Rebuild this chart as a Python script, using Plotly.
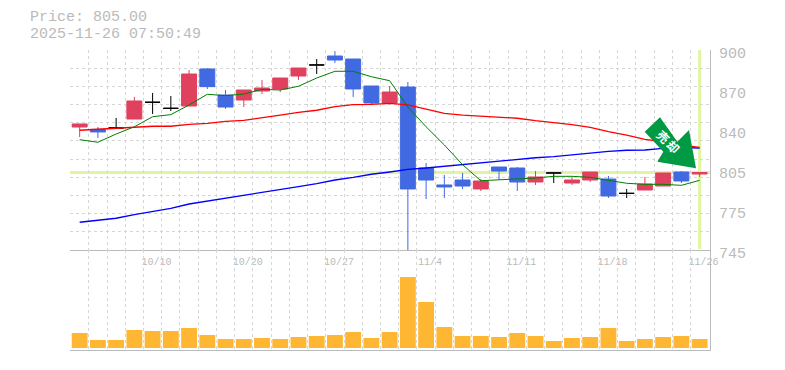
import plotly.graph_objects as go

open_ = [840.3,838.5,839.6,846.5,859.5,854.8,856.6,885.3,865.1,861.25,868.2,869.8,879.85,888.4,895.35,893,872.1,858.9,871.3,808.55,795.4,799.25,792.3,809.3,808.55,797.7,804.7,796.9,799.25,800,788.9,791.5,794.6,805.45,803.9]
high = [842.7,840.3,847.3,863.6,866.7,864.35,884.5,886.05,869,869,876.75,878.3,886.05,893,899.2,893,872.1,872.1,875.2,812.4,803.1,804.7,800,809.3,809.3,806.2,804.7,801.6,805.45,802.35,792.3,801.6,804.7,806.2,805.45]
low = [832.6,831.8,839.6,846.5,850.4,852.7,856.6,869.8,854.3,855.8,865.9,867.45,876.75,881.4,889.9,863.6,857.4,858.15,745,784.5,785.3,792.3,790.7,799.25,790.7,795.4,796.9,795.4,797.7,785.3,785.3,791.5,794.6,796.9,801.6]
close = [842.7,836.5,839.6,860.5,859.5,854.8,881.4,871.6,855.8,869,870.55,878.3,886.05,888.4,892.25,869.8,858.9,867.45,792.3,799.25,793.85,794.6,798.5,806.2,797.7,801.6,804.7,799.25,805.45,786.85,788.9,796.15,804.7,798.5,805.0]
ma_short = [830.5,828.5,834.9,840.5,848.3,849.9,857.4,865.7,864.6,865.9,869.5,869,871.9,878.3,883.5,883.5,879.3,876.2,855.8,840.5,826.4,811.1,798.7,799.25,800,800.8,802.1,802.1,801.3,799.25,796.7,795.9,795.9,795.1,799]
ma_mid = [837.8,838.5,839.3,840.1,840.9,840.9,842.4,843.2,844.7,845.5,847.8,849.6,851.7,853.3,856.1,857.6,857.9,858.7,857.4,854.3,850.9,849.6,848.85,847.8,847.1,845.2,843.7,842.1,840.1,836.7,834.1,830.8,828.9,826.2,824.6]
ma_long = [766.5,767.9,769.6,772.5,774.7,777.3,780.65,783,785.1,787.6,789.7,792.3,794.2,796.5,799.25,801.3,803.7,805.45,807.5,808.55,809.9,811.1,812.7,814,815.3,816.5,817.3,818.8,820.2,821.5,822.3,822.5,823.8,824.3,824.05]
volume = [15,8,8,18,17,17,20,13,9,9,10,9,11,12,13,16,10,16,71,46,21,12,12,11,15,12,7,10,11,20,7,9,11,12,9]

x_ticks = [4, 9, 14, 19, 24, 29, 34]
x_labels = ["10/10", "10/20", "10/27", "11/4", "11/11", "11/18", "11/26"]
y_ticks = [745, 776, 807, 838, 869, 900]
y_labels = ["745", "775", "805", "840", "870", "900"]
current_price = 805
price_text = "Price: 805.00"
time_text = "2025-11-26 07:50:49"
arrow_text = "売却"

W, H = 785, 370
L, R, T, B = 70, 710, 50, 350
px = lambda v: (v - L) / (R - L)
py = lambda v: (B - v) / (B - T)

RED, BLUE = "#E0415F", "#4169E1"
GRID, AXIS, TEXT = "#D6D6D6", "#BBBBBB", "#BABABA"
HILITE = "#E0F5A0"
idx = list(range(len(close)))
doji = [i for i in idx if open_[i] == close[i]]
body = [i for i in idx if open_[i] != close[i]]
pick = lambda a, ii: [a[i] for i in ii]

fig = go.Figure()
for vals, col, w in [(ma_long, "#0000FF", 1.3), (ma_mid, "#FF0000", 1.3), (ma_short, "#008000", 1)]:
    fig.add_trace(go.Scatter(x=idx, y=vals, mode="lines", line=dict(color=col, width=w), xaxis="x", yaxis="y"))
fig.add_trace(go.Candlestick(
    x=body, open=pick(open_, body), high=pick(high, body), low=pick(low, body), close=pick(close, body),
    increasing=dict(line=dict(color=RED, width=1), fillcolor=RED),
    decreasing=dict(line=dict(color=BLUE, width=1), fillcolor=BLUE),
    xaxis="x", yaxis="y"))
fig.add_trace(go.Candlestick(
    x=doji, open=pick(open_, doji), high=pick(high, doji), low=pick(low, doji), close=pick(close, doji),
    increasing=dict(line=dict(color="#000000", width=1), fillcolor="#000000"),
    decreasing=dict(line=dict(color="#000000", width=1), fillcolor="#000000"),
    xaxis="x", yaxis="y"))
fig.add_trace(go.Bar(x=idx, y=volume, marker=dict(color="#FFB733", line=dict(width=0)), width=0.87, xaxis="x2", yaxis="y2"))

x_grid = [k - 0.5 for k in range(35)]
y_grid = [745 + k * 155 / 11 for k in range(12)]
x_range = [-0.53, 34.57]
font_tick = dict(family="Liberation Mono", color=TEXT)

xcommon = dict(range=x_range, showgrid=False, zeroline=False, ticks="", automargin=False,
               minor=dict(tickvals=x_grid, showgrid=True, gridcolor=GRID, griddash="3px,3px", gridwidth=1, ticks=""),
               showline=True, linecolor=AXIS, linewidth=1, fixedrange=True)

fig.update_layout(
    width=W, height=H, autosize=False, showlegend=False,
    margin=dict(l=L, r=W - R, t=T, b=H - B, pad=0, autoexpand=False),
    paper_bgcolor="white", plot_bgcolor="white",
    boxmode="overlay", boxgap=0.18, boxgroupgap=0, bargap=0.13,
    xaxis=dict(domain=[0, 1], anchor="y", tickmode="array", tickvals=x_ticks, ticktext=x_labels,
               tickfont=dict(size=10, **font_tick), ticklabelstandoff=2, ticklabelshift=4,
               rangeslider=dict(visible=False), **xcommon),
    xaxis2=dict(domain=[0, 1], anchor="y2", matches="x", showticklabels=False, **xcommon),
    yaxis=dict(domain=[1 / 3, 1], anchor="x", side="right", range=[745, 900], tickmode="array",
               tickvals=y_ticks, ticktext=y_labels, tickfont=dict(size=15, **font_tick), automargin=False,
               ticklabelstandoff=5, ticklabelshift=3, showgrid=False, zeroline=False, ticks="",
               minor=dict(tickvals=y_grid, showgrid=True, gridcolor=GRID, griddash="3px,3px", gridwidth=1, ticks=""),
               showline=True, linecolor=AXIS, linewidth=1, fixedrange=True),
    yaxis2=dict(domain=[0, 1 / 3], anchor="x2", side="right", range=[-2, 98], showticklabels=False, automargin=False,
                showgrid=False, zeroline=False, ticks="", showline=True, linecolor=AXIS, linewidth=1, fixedrange=True),
    shapes=[
        dict(type="line", xref="paper", x0=0, x1=1, yref="y", y0=current_price, y1=current_price,
             line=dict(color=HILITE, width=3), layer="below"),
        dict(type="line", xref="x", x0=34, x1=34, yref="paper", y0=py(249), y1=1,
             line=dict(color=HILITE, width=3), layer="below"),
        dict(type="path", xref="paper", yref="paper", layer="above", fillcolor="#009944", line=dict(width=0),
             path="M " + " L ".join(f"{px(a):.5f},{py(b):.5f}" for a, b in
                 [(660, 117.3), (644.7, 131.7), (663.3, 151.7), (657.3, 161.7), (696, 168.3), (689, 130), (677.3, 141.7)]) + " Z"),
    ],
    annotations=[
        dict(xref="paper", yref="paper", x=px(28), y=py(18), xanchor="left", yanchor="middle", showarrow=False,
             text=price_text, font=dict(family="Liberation Mono", size=15, color=TEXT)),
        dict(xref="paper", yref="paper", x=px(28), y=py(35), xanchor="left", yanchor="middle", showarrow=False,
             text=time_text, font=dict(family="Liberation Mono", size=15, color=TEXT)),
        dict(xref="paper", yref="paper", x=px(664), y=py(136), xanchor="center", yanchor="middle", showarrow=False,
             text=f"<b>{arrow_text[0]}</b>", textangle=45, font=dict(family="Noto Sans CJK JP", size=12, color="white")),
        dict(xref="paper", yref="paper", x=px(674), y=py(146), xanchor="center", yanchor="middle", showarrow=False,
             text=f"<b>{arrow_text[1]}</b>", textangle=45, font=dict(family="Noto Sans CJK JP", size=12, color="white")),
    ],
)
fig.write_html("out.html", config=dict(displayModeBar=False), post_script="document.body.style.margin='0';")
